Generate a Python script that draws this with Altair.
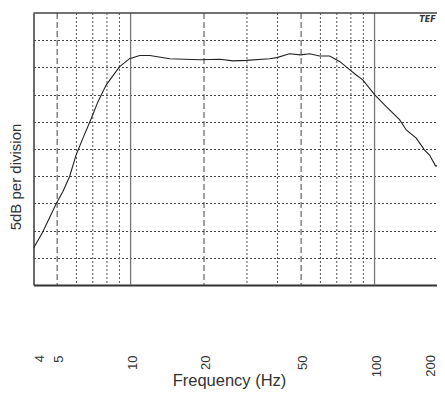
import altair as alt
import pandas as pd

# Frequency response curve (Hz, dB relative to bottom of chart)
freq = [4.0, 4.37, 4.96, 5.28, 5.62, 5.99, 6.38, 6.90, 7.35, 7.95, 9.0, 9.9,
        10.9, 12.0, 12.7, 14.45, 19.2, 23.2, 26.3, 29.8, 37.1, 39.8, 44.8,
        49.8, 54.2, 59.5, 65.4, 71.9, 79.0, 84.1, 89.5, 100.0, 111.7, 126.6,
        134.9, 148.3, 160.3, 168.1, 177.8, 184.7, 194.0]
level = [6.75, 9.8, 15.0, 17.2, 19.9, 24.0, 27.0, 30.6, 33.7, 36.8, 40.1, 41.6,
         42.2, 42.2, 42.0, 41.6, 41.4, 41.5, 41.2, 41.3, 41.6, 41.8, 42.5,
         42.3, 42.5, 42.1, 42.1, 41.1, 39.6, 38.6, 37.7, 35.0, 32.8, 30.4,
         28.5, 27.0, 24.8, 23.9, 21.9, 21.9, 20.9]

x_domain = [4, 180.3]
y_domain = [0, 50]
hgrid = [5, 10, 15, 20, 25, 30, 35, 40, 45]
grid_major = [10, 100]
grid_long = [5, 20, 50]
grid_short = [6, 7, 8, 9, 30, 40, 60, 70, 80, 90]
tick_labels = [5, 10, 20, 50, 100]
edge_low = [4]
edge_high = [200]

FONT = "Liberation Sans"
xs = alt.Scale(type="log", domain=x_domain, nice=False)
ys = alt.Scale(domain=y_domain, nice=False, zero=False)

x_axis = alt.Axis(values=tick_labels, labelAngle=270, labelPadding=70,
                  ticks=False, grid=False, domain=True,
                  domainColor="#333", domainWidth=1.8,
                  labelFont=FONT, labelFontSize=13, labelColor="#333",
                  labelOffset=1.5,
                  title="Frequency (Hz)", titleFont=FONT, titleFontSize=16.5,
                  titleFontWeight="normal", titleColor="#333",
                  titleX=195.5, titleY=100, titleBaseline="alphabetic")
y_axis = alt.Axis(values=hgrid, labels=False, ticks=False, grid=True,
                  gridDash=[2, 2], gridColor="#444", gridWidth=1,
                  domain=True, domainColor="#444", domainWidth=1.6,
                  title="5dB per division", titleFont=FONT, titleFontSize=15,
                  titleFontWeight="normal", titleColor="#333",
                  titleAngle=270, titleX=-13.5, titleY=163.5,
                  titleBaseline="alphabetic")

X = lambda: alt.X("f:Q", scale=xs, axis=x_axis)
Y = lambda: alt.Y("db:Q", scale=ys, axis=y_axis)

curve = pd.DataFrame({"f": freq, "db": level})

line = alt.Chart(curve).mark_line(color="#222", strokeWidth=1.1, clip=True).encode(
    x=X(), y=Y())

def vrules(vals, color, dash, width):
    df = pd.DataFrame({"f": vals})
    kw = dict(color=color, strokeWidth=width)
    if dash:
        kw["strokeDash"] = dash
    return alt.Chart(df).mark_rule(**kw).encode(x=X())

r_short = vrules(grid_short, "#555", [2, 2], 1)
r_long = vrules(grid_long, "#444", [6, 3], 1)
r_major = vrules(grid_major, "#777", None, 1.3)

top = alt.Chart(pd.DataFrame({"db": [y_domain[1]]})).mark_rule(
    color="#444", strokeWidth=1.5).encode(y=Y())

def edge_text(vals, shift):
    df = pd.DataFrame({"f": vals, "t": [str(v) for v in vals]})
    return alt.Chart(df).mark_text(
        angle=270, align="right", baseline="middle", dy=shift,
        font=FONT, fontSize=13, color="#333").encode(
        x=X(), y=alt.value(342), text="t:N")

lbl_low = edge_text(edge_low, 6)
lbl_high = edge_text(edge_high, -16.5)

logo = alt.Chart(pd.DataFrame({"t": ["TEF"]})).mark_text(
    font="DejaVu Sans", fontSize=8, fontStyle="italic", fontWeight="bold",
    color="#333", align="center", baseline="middle").encode(
    x=alt.value(394), y=alt.value(6.5), text="t:N")

chart = alt.layer(r_short, r_long, r_major, top, line, lbl_low, lbl_high, logo).properties(
    width=403.5, height=272,
    autosize=alt.AutoSizeParams(type="none"),
    padding={"left": 25.5, "top": 5, "right": 0, "bottom": 104},
).configure_view(stroke="transparent")

chart.save("out.html", embed_options={"renderer": "svg", "actions": False})
